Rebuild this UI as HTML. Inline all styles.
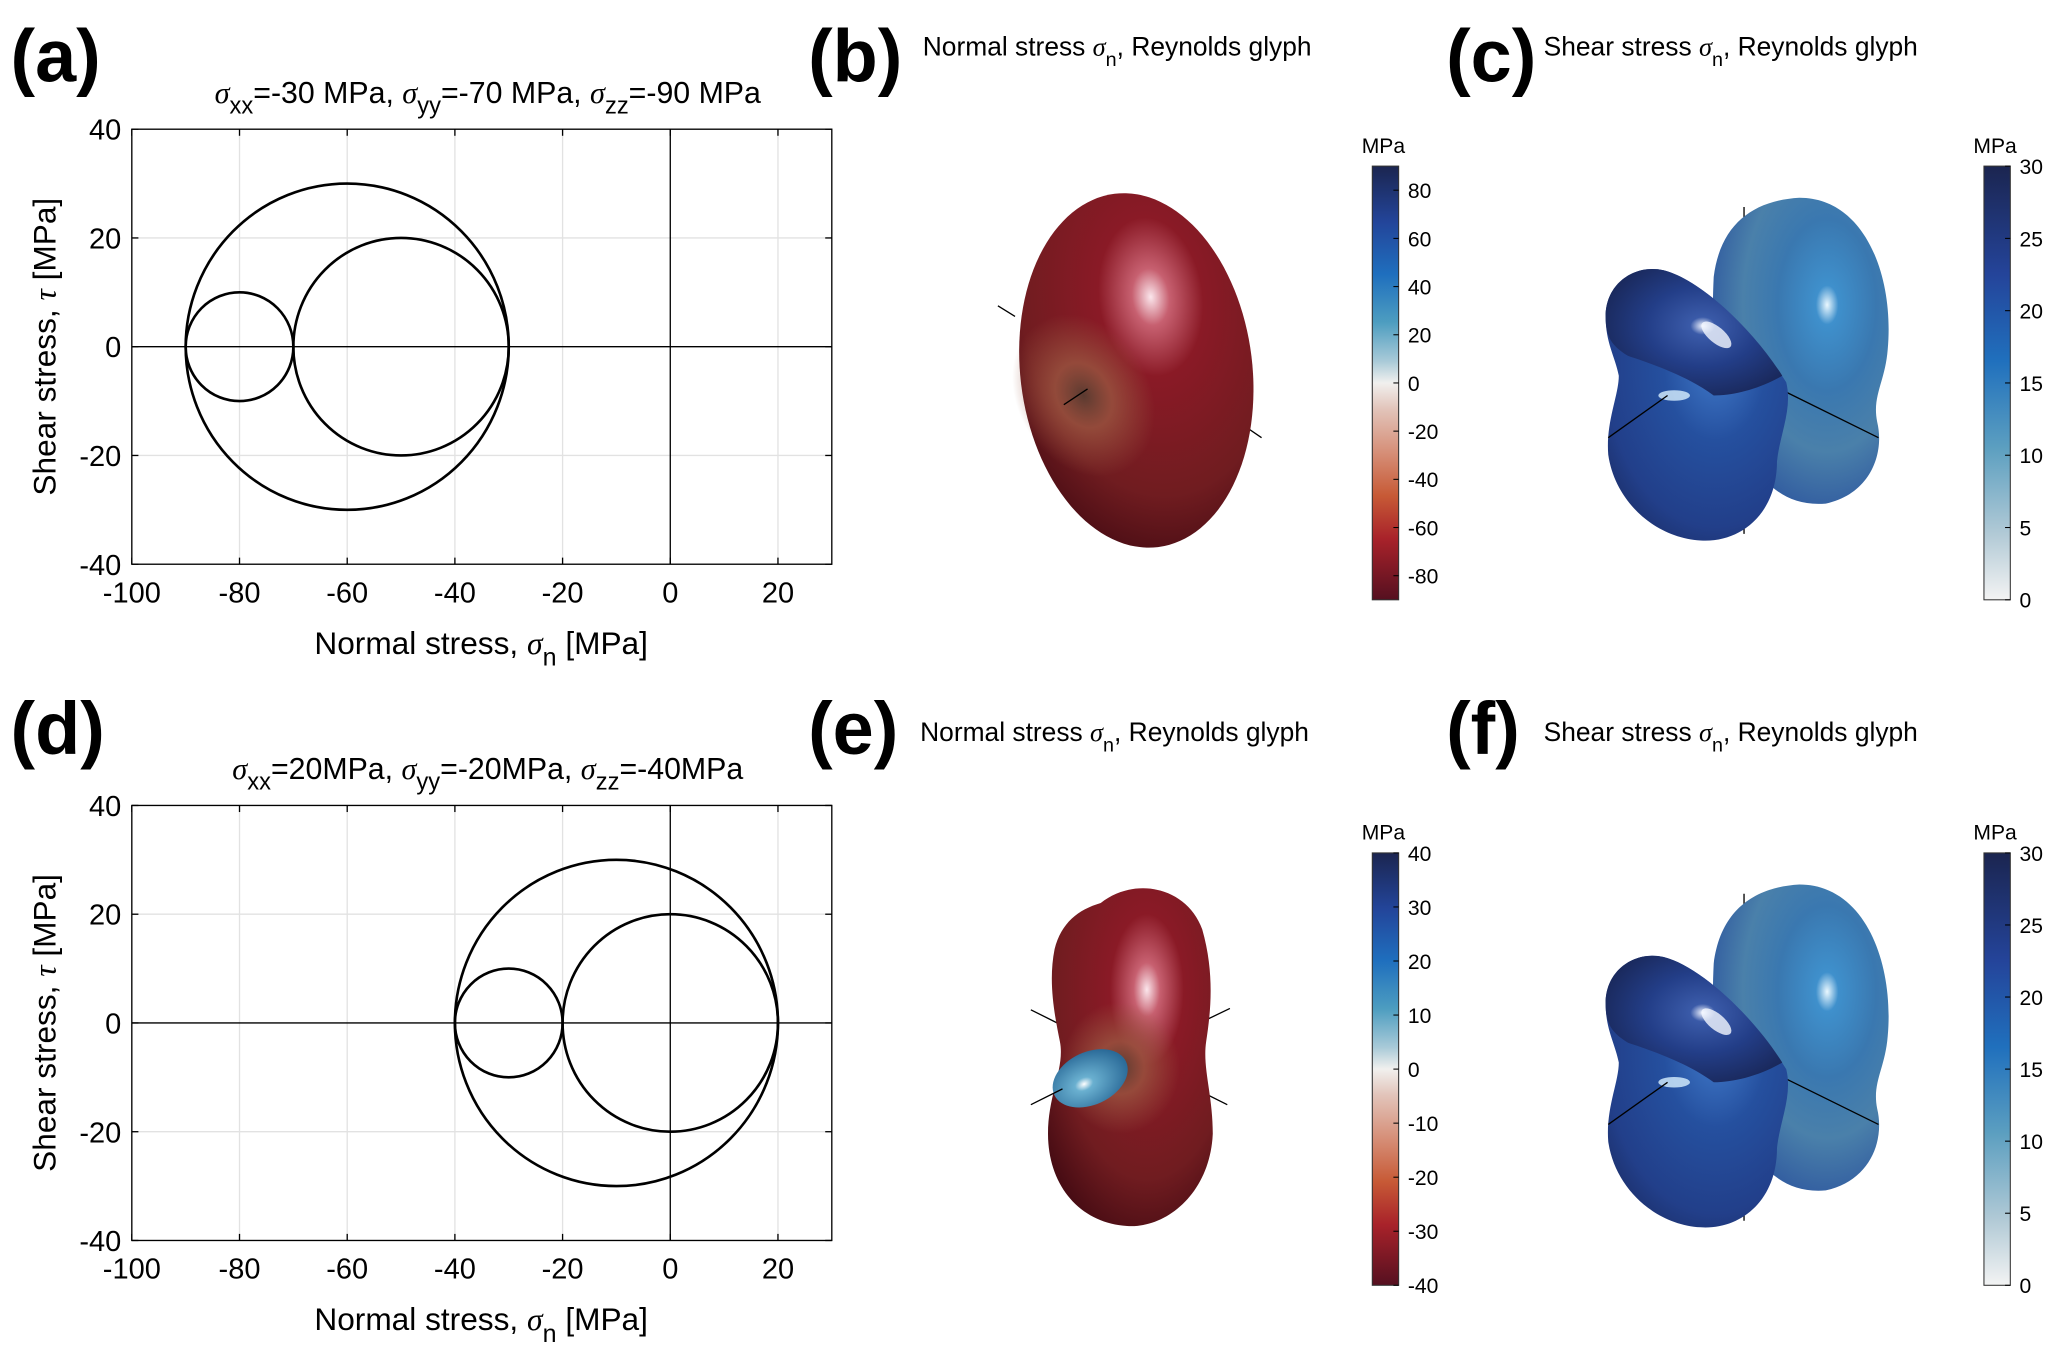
<!DOCTYPE html>
<html><head><meta charset="utf-8"><style>
html,body{margin:0;padding:0;background:#fff}
svg{display:block}
text{font-family:"Liberation Sans",sans-serif}
</style></head><body>
<svg id="fig" width="2067" height="1364" viewBox="0 0 1568 1034.7" xmlns="http://www.w3.org/2000/svg">
<defs>
<linearGradient id="div" x1="0" y1="0" x2="0" y2="1">
<stop offset="0" stop-color="#1b2550"/><stop offset="0.13" stop-color="#23459a"/><stop offset="0.25" stop-color="#1f6fbe"/><stop offset="0.36" stop-color="#4d9dc0"/><stop offset="0.45" stop-color="#a9cad8"/><stop offset="0.5" stop-color="#f1f0ee"/><stop offset="0.56" stop-color="#e2c4ba"/><stop offset="0.66" stop-color="#d68f78"/><stop offset="0.76" stop-color="#c75a36"/><stop offset="0.86" stop-color="#a8222a"/><stop offset="1" stop-color="#551020"/>
</linearGradient>
<linearGradient id="seq" x1="0" y1="0" x2="0" y2="1">
<stop offset="0" stop-color="#1b2550"/><stop offset="0.25" stop-color="#24449a"/><stop offset="0.45" stop-color="#2070bd"/><stop offset="0.65" stop-color="#5c9fc0"/><stop offset="0.85" stop-color="#b2cad6"/><stop offset="1" stop-color="#f3f3f3"/>
</linearGradient>
<radialGradient id="redg" cx="0.6" cy="0.3" r="0.8">
<stop offset="0" stop-color="#fbe6ec"/><stop offset="0.1" stop-color="#c76070"/><stop offset="0.28" stop-color="#8a1a26"/><stop offset="0.7" stop-color="#701c20"/><stop offset="1" stop-color="#420a12"/>
</radialGradient>
<radialGradient id="redmid" cx="0.5" cy="0.5" r="0.5">
<stop offset="0" stop-color="#5a3a30"/><stop offset="0.4" stop-color="#9a5540" stop-opacity="0.8"/><stop offset="1" stop-color="#9a5540" stop-opacity="0"/>
</radialGradient>
<radialGradient id="blueg" cx="0.6" cy="0.35" r="0.8">
<stop offset="0" stop-color="#e8f6ff"/><stop offset="0.08" stop-color="#3a70c0"/><stop offset="0.35" stop-color="#25509f"/><stop offset="0.75" stop-color="#223f8a"/><stop offset="1" stop-color="#1a2a60"/>
</radialGradient>
<radialGradient id="blueback" cx="0.65" cy="0.35" r="0.8">
<stop offset="0" stop-color="#eaf8ff"/><stop offset="0.08" stop-color="#3f90cc"/><stop offset="0.35" stop-color="#3a78b0"/><stop offset="0.6" stop-color="#4a80aa"/><stop offset="1" stop-color="#24489a"/>
</radialGradient>
<radialGradient id="navyg" cx="0.55" cy="0.45" r="0.7">
<stop offset="0" stop-color="#f0f4ff"/><stop offset="0.1" stop-color="#3a5aa8"/><stop offset="0.45" stop-color="#233e88"/><stop offset="1" stop-color="#16204a"/>
</radialGradient>
<radialGradient id="smallblue" cx="0.4" cy="0.55" r="0.6">
<stop offset="0" stop-color="#ffffff"/><stop offset="0.2" stop-color="#6ab0d0"/><stop offset="1" stop-color="#2a6a98"/>
</radialGradient>
</defs>

<g id="panelA"></g>
<g id="panelD"></g>

<text x="8" y="62" font-size="56" font-weight="bold">(a)</text>
<text x="613" y="62" font-size="56" font-weight="bold">(b)</text>
<text x="1097" y="62" font-size="56" font-weight="bold">(c)</text>
<text x="8" y="572" font-size="56" font-weight="bold">(d)</text>
<text x="613" y="572" font-size="56" font-weight="bold">(e)</text>
<text x="1097" y="572" font-size="56" font-weight="bold">(f)</text>

<text x="700" y="42" font-size="20">Normal stress <tspan font-family="Liberation Serif" font-style="italic">σ</tspan><tspan font-size="15" dy="8">n</tspan><tspan dy="-8">, Reynolds glyph</tspan></text>
<text x="1171" y="42" font-size="20">Shear stress <tspan font-family="Liberation Serif" font-style="italic">σ</tspan><tspan font-size="15" dy="8">n</tspan><tspan dy="-8">, Reynolds glyph</tspan></text>
<text x="698" y="562" font-size="20">Normal stress <tspan font-family="Liberation Serif" font-style="italic">σ</tspan><tspan font-size="15" dy="8">n</tspan><tspan dy="-8">, Reynolds glyph</tspan></text>
<text x="1171" y="562" font-size="20">Shear stress <tspan font-family="Liberation Serif" font-style="italic">σ</tspan><tspan font-size="15" dy="8">n</tspan><tspan dy="-8">, Reynolds glyph</tspan></text>

<g>
<line x1="757" y1="232" x2="770" y2="240" stroke="#000" stroke-width="1"/>
<line x1="935" y1="317" x2="957" y2="332" stroke="#000" stroke-width="1"/>
<ellipse cx="862" cy="281" rx="88" ry="135" transform="rotate(-7 862 281)" fill="url(#redg)"/>
<ellipse cx="822" cy="300" rx="50" ry="65" transform="rotate(-30 822 300)" fill="url(#redmid)"/>
<line x1="807" y1="307" x2="825" y2="295" stroke="#000" stroke-width="1"/>
</g>

<g id="glyphC">
<line x1="1323" y1="157" x2="1323" y2="405" stroke="#000" stroke-width="1"/>
<path d="M1300,210 C1305,170 1330,152 1365,150 C1415,150 1437,210 1432,265 C1430,290 1420,300 1424,320 C1430,345 1418,375 1385,382 C1350,385 1330,360 1320,330 C1300,290 1298,250 1300,210 Z" fill="url(#blueback)"/>
<line x1="1350" y1="295" x2="1425" y2="332" stroke="#000" stroke-width="1"/>
<path d="M1218,240 C1218,215 1240,200 1262,205 C1290,212 1330,250 1355,290 C1360,310 1350,330 1348,350 C1348,390 1320,412 1290,410 C1255,408 1225,380 1220,345 C1218,320 1228,300 1228,285 C1225,270 1218,260 1218,240 Z" fill="url(#blueg)"/>
<path d="M1218,240 C1218,215 1240,200 1262,205 C1290,212 1330,250 1352,285 C1335,295 1315,300 1300,300 C1280,285 1250,275 1235,270 C1222,262 1218,255 1218,240 Z" fill="url(#navyg)"/>
<ellipse cx="1302" cy="254" rx="14" ry="6" transform="rotate(40 1302 254)" fill="#f4f8ff" opacity="0.8"/>
<ellipse cx="1270" cy="300" rx="12" ry="4" fill="#d8f0ff" opacity="0.8"/>
<line x1="1220" y1="332" x2="1265" y2="300" stroke="#000" stroke-width="1"/>
</g>

<g>
<line x1="782" y1="766" x2="806" y2="778" stroke="#000" stroke-width="1"/>
<line x1="908" y1="777" x2="933" y2="765" stroke="#000" stroke-width="1"/>
<line x1="907" y1="826" x2="931" y2="838" stroke="#000" stroke-width="1"/>
<path d="M835,685 C860,665 900,672 912,705 C922,740 918,770 915,790 C912,810 920,830 920,860 C918,905 885,932 855,930 C820,928 795,900 795,860 C795,830 808,810 804,790 C800,770 795,745 800,720 C805,700 818,690 835,685 Z" fill="url(#redg)"/>
<ellipse cx="850" cy="810" rx="45" ry="50" fill="url(#redmid)"/>
<ellipse cx="827" cy="818" rx="30" ry="20" transform="rotate(-25 827 818)" fill="url(#smallblue)"/>
<line x1="782" y1="838" x2="806" y2="826" stroke="#000" stroke-width="1"/>
</g>

<g id="cbB"></g>
<g id="cbC"></g>
<g id="cbE"></g>
<g id="cbF"></g>
</svg>
<script>
const NS="http://www.w3.org/2000/svg";
const principalA=[-30,-70,-90];
const principalD=[20,-20,-40];
const xTicks=[-100,-80,-60,-40,-20,0,20];
const yTicks=[-40,-20,0,20,40];
const cbTicksB=[-80,-60,-40,-20,0,20,40,60,80];
const cbTicksE=[-40,-30,-20,-10,0,10,20,30,40];
const cbTicksC=[0,5,10,15,20,25,30];
const cbRangeB=[-90,90], cbRangeE=[-40,40], cbRangeC=[0,30];

function mk(tag,attrs,parent){const e=document.createElementNS(NS,tag);for(const k in attrs)e.setAttribute(k,attrs[k]);parent.appendChild(e);return e;}

function mohr(g,principal,top,titleParts){
  const L=100,R=631,T=top,B=top+330;
  const sx=v=>L+(v+100)/130*(R-L);
  const sy=v=>B-(v+40)/80*(B-T);
  xTicks.forEach(t=>{ if(t!==0){const l=mk('line',{x1:sx(t),x2:sx(t),y1:T,y2:B,stroke:'#e2e2e2','stroke-width':1},g);
    }});
  yTicks.forEach(t=>{ if(t!==0){const l=mk('line',{x1:L,x2:R,y1:sy(t),y2:sy(t),stroke:'#e2e2e2','stroke-width':1},g);
    }});
  mk('line',{x1:sx(0),x2:sx(0),y1:T,y2:B,stroke:'#000','stroke-width':1},g);
  mk('line',{x1:L,x2:R,y1:sy(0),y2:sy(0),stroke:'#000','stroke-width':1},g);
  const s=[...principal].sort((a,b)=>b-a);
  const pairs=[[s[1],s[2]],[s[0],s[1]],[s[0],s[2]]];
  pairs.forEach((p,i)=>{const c=(p[0]+p[1])/2,r=Math.abs(p[0]-p[1])/2;
    const el=mk('ellipse',{cx:sx(c),cy:sy(0),rx:sx(c+r)-sx(c),ry:sy(0)-sy(r),fill:'none',stroke:'#000','stroke-width':2},g);
    });
  mk('rect',{x:L,y:T,width:R-L,height:B-T,fill:'none',stroke:'#000','stroke-width':1},g);
  xTicks.forEach(t=>{mk('line',{x1:sx(t),x2:sx(t),y1:B,y2:B-5,stroke:'#000'},g);mk('line',{x1:sx(t),x2:sx(t),y1:T,y2:T+5,stroke:'#000'},g);
    const tx=mk('text',{x:sx(t),y:B+29,'font-size':22,'text-anchor':'middle'},g);tx.textContent=t;
    });
  yTicks.forEach(t=>{mk('line',{x1:L,x2:L+5,y1:sy(t),y2:sy(t),stroke:'#000'},g);mk('line',{x1:R,x2:R-5,y1:sy(t),y2:sy(t),stroke:'#000'},g);
    const tx=mk('text',{x:L-8,y:sy(t)+8,'font-size':22,'text-anchor':'end'},g);tx.textContent=t;
    });
  const xl=mk('text',{x:365,y:B+68,'font-size':24,'text-anchor':'middle'},g);
  xl.innerHTML='Normal stress, <tspan font-family="Liberation Serif" font-style="italic">σ</tspan><tspan dy="9" font-size="19">n</tspan><tspan dy="-9"> [MPa]</tspan>';
  
  const yl=mk('text',{x:0,y:0,'font-size':24,'text-anchor':'middle',transform:`translate(42,${(T+B)/2}) rotate(-90)`},g);
  yl.innerHTML='Shear stress, <tspan font-family="Liberation Serif" font-style="italic">τ</tspan> [MPa]';
  
  const ti=mk('text',{x:370,y:T-20,'font-size':23,'text-anchor':'middle'},g);
  ti.innerHTML=titleParts;
  
}
const sig='<tspan font-family="Liberation Serif" font-style="italic">σ</tspan>';
mohr(document.getElementById('panelA'),principalA,98,
 `${sig}<tspan dy="8" font-size="18">xx</tspan><tspan dy="-8">=-30 MPa, </tspan>${sig}<tspan dy="8" font-size="18">yy</tspan><tspan dy="-8">=-70 MPa, </tspan>${sig}<tspan dy="8" font-size="18">zz</tspan><tspan dy="-8">=-90 MPa</tspan>`);
mohr(document.getElementById('panelD'),principalD,611,
 `${sig}<tspan dy="8" font-size="18">xx</tspan><tspan dy="-8">=20MPa, </tspan>${sig}<tspan dy="8" font-size="18">yy</tspan><tspan dy="-8">=-20MPa, </tspan>${sig}<tspan dy="8" font-size="18">zz</tspan><tspan dy="-8">=-40MPa</tspan>`);

function colorbar(g,x,top,bot,ticks,range,grad){
  mk('rect',{x:x,y:top,width:20,height:bot-top,fill:`url(#${grad})`,stroke:'#333','stroke-width':0.8},g);
  const sy=v=>bot-(v-range[0])/(range[1]-range[0])*(bot-top);
  ticks.forEach(t=>{mk('line',{x1:x+16,x2:x+20,y1:sy(t),y2:sy(t),stroke:'#000','stroke-width':0.8},g);
    const tx=mk('text',{x:x+27,y:sy(t)+6,'font-size':16},g);tx.textContent=t;
    });
  const u=mk('text',{x:x-8,y:top-10,'font-size':16},g);u.textContent='MPa';
  
}
colorbar(document.getElementById('cbB'),1041,126,455,cbTicksB,cbRangeB,'div');
colorbar(document.getElementById('cbC'),1505,126,455,cbTicksC,cbRangeC,'seq');
colorbar(document.getElementById('cbE'),1041,647,975,cbTicksE,cbRangeE,'div');
colorbar(document.getElementById('cbF'),1505,647,975,cbTicksC,cbRangeC,'seq');

const gc=document.getElementById('glyphC');
const gf=gc.cloneNode(true);gf.removeAttribute('id');

gf.setAttribute('transform','translate(0,521)');
gc.parentNode.appendChild(gf);
</script>
</body></html>
